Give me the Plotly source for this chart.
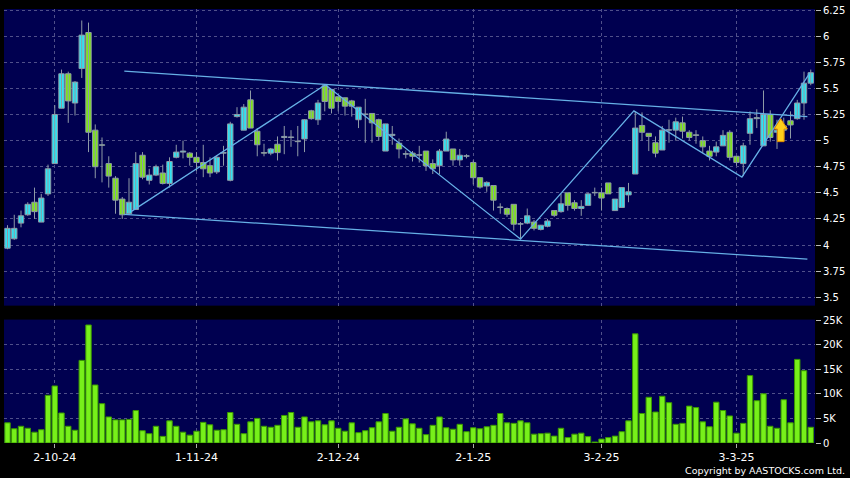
import pandas as pd
import plotly.graph_objects as go

# ---------------- data ----------------
holidays = ["2024-10-01", "2024-10-11", "2024-12-25", "2024-12-26",
            "2025-01-01", "2025-01-29", "2025-01-30", "2025-01-31"]
dates = [d for d in pd.bdate_range("2024-09-20", "2025-03-18").strftime("%Y-%m-%d")
         if d not in holidays]

opens = [3.97, 4.06, 4.21, 4.29, 4.41, 4.22, 4.49, 4.78, 5.31, 5.64,
         5.36, 5.69, 6.035, 5.10, 4.96, 4.78, 4.64, 4.44, 4.30, 4.34,
         4.86, 4.62, 4.67, 4.69, 4.59, 4.84, 4.89, 4.88, 4.84, 4.79,
         4.76, 4.70, 4.88, 4.62, 5.23, 5.10, 5.39, 5.09, 4.885, 4.88,
         4.965, 5.03, 5.03, 4.995, 5.016, 5.285, 5.20, 5.525, 5.49, 5.42,
         5.41, 5.38, 5.20, 5.25, 5.26, 5.20, 4.90, 5.05, 4.975, 4.87,
         4.88, 4.86, 4.90, 4.78, 4.76, 4.90, 4.92, 4.815, 4.85, 4.79,
         4.645, 4.565, 4.57, 4.36, 4.35, 4.39, 4.20, 4.21, 4.22, 4.15,
         4.18, 4.33, 4.32, 4.50, 4.405, 4.35, 4.38, 4.50, 4.50, 4.595,
         4.33, 4.36, 4.48, 4.68, 5.145, 5.07, 4.98, 4.91, 5.10, 5.10,
         5.17, 5.08, 5.055, 5.00, 4.90, 4.89, 4.95, 5.08, 4.85, 4.78,
         5.07, 5.21, 4.95, 5.25, 5.08, 5.10, 5.19, 5.21, 5.36, 5.55]
highs = [4.19, 4.29, 4.33, 4.41, 4.55, 4.49, 4.77, 5.34, 5.68, 5.66,
         5.57, 6.15, 6.13, 5.155, 5.03, 4.85, 4.66, 4.46, 4.64, 4.89,
         4.89, 4.73, 4.77, 4.77, 4.84, 4.96, 5.00, 4.89, 4.89, 4.96,
         4.84, 4.86, 4.95, 5.18, 5.32, 5.35, 5.48, 5.12, 4.97, 4.93,
         5.04, 5.14, 5.10, 5.14, 5.205, 5.295, 5.39, 5.535, 5.49, 5.42,
         5.41, 5.39, 5.32, 5.40, 5.26, 5.21, 5.16, 5.14, 5.02, 4.905,
         4.90, 4.95, 4.90, 4.82, 4.92, 5.085, 4.92, 4.92, 4.87, 4.81,
         4.65, 4.61, 4.57, 4.40, 4.36, 4.39, 4.22, 4.35, 4.24, 4.19,
         4.25, 4.33, 4.49, 4.50, 4.43, 4.43, 4.50, 4.55, 4.55, 4.595,
         4.44, 4.55, 4.595, 5.28, 5.27, 5.07, 5.04, 5.14, 5.20, 5.22,
         5.23, 5.10, 5.10, 5.04, 4.95, 4.99, 5.10, 5.10, 4.85, 4.98,
         5.28, 5.30, 5.48, 5.29, 5.20, 5.22, 5.28, 5.39, 5.66, 5.68]
lows = [3.96, 4.05, 4.17, 4.28, 4.25, 4.22, 4.47, 4.78, 5.31, 5.17,
        5.24, 5.60, 4.89, 4.64, 4.60, 4.55, 4.30, 4.25, 4.29, 4.34,
        4.63, 4.58, 4.66, 4.58, 4.55, 4.83, 4.83, 4.76, 4.71, 4.65,
        4.65, 4.68, 4.76, 4.61, 5.22, 5.10, 5.12, 4.85, 4.85, 4.86,
        4.81, 4.87, 4.94, 4.85, 4.89, 5.20, 5.15, 5.28, 5.26, 5.28,
        5.24, 5.23, 5.12, 4.98, 4.98, 5.00, 4.90, 4.96, 4.83, 4.83,
        4.80, 4.79, 4.71, 4.68, 4.68, 4.90, 4.76, 4.76, 4.83, 4.58,
        4.54, 4.51, 4.33, 4.30, 4.27, 4.14, 4.06, 4.20, 4.14, 4.14,
        4.17, 4.27, 4.31, 4.33, 4.33, 4.28, 4.38, 4.47, 4.33, 4.49,
        4.33, 4.36, 4.41, 4.68, 5.00, 4.90, 4.84, 4.91, 4.98, 5.00,
        5.02, 5.00, 4.97, 4.88, 4.81, 4.85, 4.95, 4.81, 4.76, 4.66,
        4.96, 5.12, 4.95, 4.99, 4.92, 5.02, 5.02, 5.20, 5.20, 5.53]
closes = [4.16, 4.16, 4.28, 4.39, 4.32, 4.45, 4.73, 5.25, 5.64, 5.38,
          5.56, 6.01, 5.08, 4.75, 4.955, 4.66, 4.43, 4.29, 4.41, 4.78,
          4.65, 4.67, 4.75, 4.59, 4.80, 4.89, 4.90, 4.84, 4.79, 4.73,
          4.69, 4.84, 4.885, 5.16, 5.25, 5.32, 5.12, 4.96, 4.88, 4.92,
          4.885, 5.04, 5.035, 4.99, 5.20, 5.21, 5.36, 5.375, 5.31, 5.375,
          5.33, 5.33, 5.32, 5.255, 5.17, 5.04, 5.16, 5.06, 4.92, 4.875,
          4.85, 4.865, 4.76, 4.73, 4.90, 5.015, 4.815, 4.86, 4.855, 4.645,
          4.555, 4.60, 4.43, 4.365, 4.295, 4.20, 4.205, 4.28, 4.16, 4.19,
          4.23, 4.285, 4.395, 4.38, 4.35, 4.37, 4.49, 4.50, 4.45, 4.49,
          4.44, 4.55, 4.51, 5.12, 5.08, 5.04, 4.88, 5.10, 5.10, 5.18,
          5.09, 5.03, 5.05, 4.94, 4.85, 4.94, 5.05, 4.84, 4.79, 4.95,
          5.21, 5.22, 5.25, 5.03, 5.10, 5.14, 5.15, 5.36, 5.55, 5.65]
volumes = [4100, 2900, 3400, 3000, 2200, 2700, 9700, 11600, 6100, 3400,
           2600, 16800, 24000, 11800, 8000, 5300, 4700, 4700, 4800, 6600,
           2500, 1900, 3400, 1350, 4500, 3400, 2200, 1600, 2400, 4200,
           3700, 2600, 2700, 6200, 3800, 1900, 4300, 5000, 3400, 3200,
           3600, 5600, 6200, 3200, 5300, 4300, 4500, 3700, 4500, 3000,
           2400, 4100, 2100, 2500, 3100, 4300, 6000, 2400, 3200, 4900,
           3900, 3000, 1700, 3600, 5300, 3100, 2800, 3800, 2300, 3100,
           2900, 3300, 3600, 6000, 4100, 4000, 4500, 4100, 1800, 1900,
           2000, 1400, 3000, 1100, 1800, 2000, 1300, 200, 800, 1100,
           1400, 2300, 4500, 22200, 6000, 9300, 6300, 9500, 8200, 3800,
           4000, 7500, 7200, 4300, 3300, 8300, 6600, 5500, 2000, 4000,
           13700, 8600, 10000, 3400, 3000, 8800, 4100, 17000, 14700, 3200]

tick_dates = ["2024-10-02", "2024-11-01", "2024-12-02", "2025-01-02", "2025-02-03", "2025-03-03"]
tick_labels = ["2-10-24", "1-11-24", "2-12-24", "2-1-25", "3-2-25", "3-3-25"]
price_ticks = [3.5, 3.75, 4, 4.25, 4.5, 4.75, 5, 5.25, 5.5, 5.75, 6, 6.25]
price_tick_labels = ["3.5", "3.75", "4", "4.25", "4.5", "4.75", "5", "5.25", "5.5", "5.75", "6", "6.25"]
vol_ticks = [0, 5000, 10000, 15000, 20000, 25000]
vol_tick_labels = ["0", "5K", "10K", "15K", "20K", "25K"]

# trend lines (date index, price)
upper_channel_x = [17.3, 118.5]
upper_channel_y = [5.666, 5.23]
lower_channel_x = [17.3, 118.5]
lower_channel_y = [4.293, 3.865]
zigzag_x = [18.3, 47.1, 76.0, 92.8, 108.8, 118.9]
zigzag_y = [4.32, 5.535, 4.057, 5.285, 4.65, 5.65]

arrow_index = 114.55
arrow_top = 5.21
arrow_bottom = 4.99

# ---------------- styling ----------------
CYAN = "#2fe3f3"
GREEN = "#7fe41c"
WICK = "#8e9aa6"
VOL_FILL = "#77f01a"
VOL_EDGE = "#3a9800"
TREND = "#66b0e6"
NAVY = "#000050"
GRID = "#50508a"
FONT = "DejaVu Sans"
MIN_BODY = 0.004

idx = list(range(len(dates)))
tick_pos = [dates.index(d) for d in tick_dates]

# wicks: one vertical segment per session (None separates segments)
wick_x, wick_y = [], []
for i, h, l in zip(idx, highs, lows):
    wick_x += [i, i, None]
    wick_y += [l, h, None]

body_base = [min(o, c) for o, c in zip(opens, closes)]
body_height = [max(abs(c - o), MIN_BODY) for o, c in zip(opens, closes)]
body_color = [CYAN if c >= o else GREEN for o, c in zip(opens, closes)]

fig = go.Figure()
fig.add_trace(go.Scatter(x=wick_x, y=wick_y, mode="lines", line=dict(color=WICK, width=1),
                         hoverinfo="skip", showlegend=False, xaxis="x", yaxis="y"))
fig.add_trace(go.Bar(x=idx, y=body_height, base=body_base, width=0.8,
                     marker=dict(color=body_color, line=dict(color=WICK, width=1)),
                     hoverinfo="skip", showlegend=False, xaxis="x", yaxis="y"))

for tx, ty in [(upper_channel_x, upper_channel_y), (lower_channel_x, lower_channel_y), (zigzag_x, zigzag_y)]:
    fig.add_trace(go.Scatter(x=tx, y=ty, mode="lines", line=dict(color=TREND, width=1.3),
                             hoverinfo="skip", showlegend=False, xaxis="x", yaxis="y"))

fig.add_trace(go.Bar(x=idx, y=volumes, width=0.8,
                     marker=dict(color=VOL_FILL, line=dict(color=VOL_EDGE, width=1)),
                     hoverinfo="skip", showlegend=False, xaxis="x2", yaxis="y2"))

# arrow marker (decoration) built from its anchor
hw, sw = 0.98, 0.5
head = arrow_top - (arrow_top - arrow_bottom) * 0.45
path = (f"M {arrow_index},{arrow_top} L {arrow_index+hw},{head} L {arrow_index+sw},{head} "
        f"L {arrow_index+sw},{arrow_bottom} L {arrow_index-sw},{arrow_bottom} L {arrow_index-sw},{head} "
        f"L {arrow_index-hw},{head} Z")
fig.add_shape(type="path", path=path, xref="x", yref="y", fillcolor="#ffcf1a",
              line=dict(color="#e08a00", width=1), layer="above")

xrange = [-0.52, 119.63]
common_x = dict(range=xrange, tickvals=tick_pos, showgrid=True, gridcolor=GRID, griddash="3px,3px",
                gridwidth=1, zeroline=False, showline=False)

fig.update_layout(
    width=850, height=478,
    margin=dict(l=4, r=35, t=7, b=35),
    paper_bgcolor="#000000", plot_bgcolor=NAVY,
    font=dict(family=FONT, size=11, color="#ffffff"),
    barmode="overlay",
    xaxis=dict(**common_x, anchor="y", showticklabels=False, ticks=""),
    xaxis2=dict(**common_x, anchor="y2", matches="x", ticktext=tick_labels,
                ticks="outside", ticklen=4, tickcolor="#aaaaaa",
                tickfont=dict(family=FONT, size=11, color="#ffffff")),
    yaxis=dict(domain=[0.3165, 1], range=[3.42, 6.26], side="right", tickvals=price_ticks,
               ticktext=price_tick_labels, ticks="outside", ticklen=5, tickcolor="#bbbbbb",
               showgrid=True, gridcolor=GRID, griddash="3px,3px", zeroline=False,
               tickfont=dict(family=FONT, size=10, color="#ffffff")),
    yaxis2=dict(domain=[0, 0.2844], range=[0, 25100], side="right", tickvals=vol_ticks,
                ticktext=vol_tick_labels, ticks="outside", ticklen=5, tickcolor="#bbbbbb",
                showgrid=True, gridcolor=GRID, griddash="3px,3px", zeroline=False,
                tickfont=dict(family=FONT, size=10, color="#ffffff")),
    annotations=[dict(text="Copyright by AASTOCKS.com Ltd.", xref="paper", yref="paper",
                      x=1.0395, y=-0.064, xanchor="right", yanchor="middle", showarrow=False,
                      font=dict(family=FONT, size=9.5, color="#ffffff"))],
)

fig.write_html("out.html", config={"displayModeBar": False},
               post_script="document.body.style.margin='0px';")
